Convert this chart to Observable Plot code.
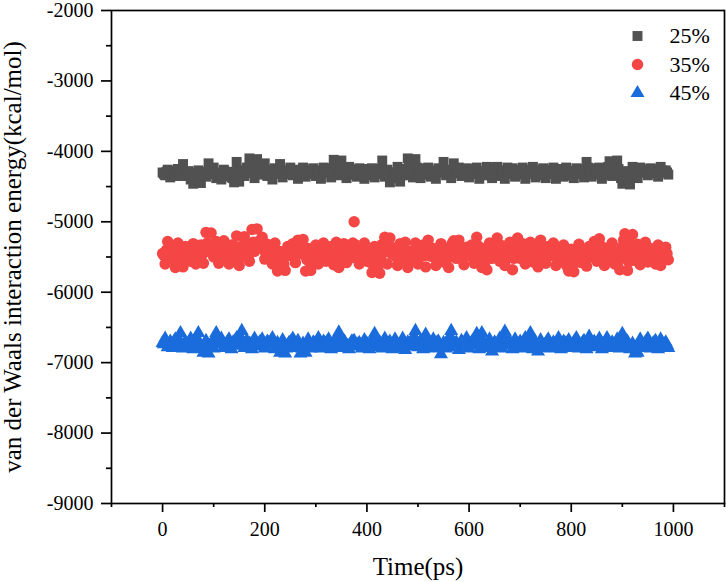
<!DOCTYPE html>
<html>
<head>
<meta charset="utf-8">
<script src="https://cdn.jsdelivr.net/npm/d3@7"></script>
<script src="https://cdn.jsdelivr.net/npm/@observablehq/plot@0.6"></script>
<style>
  html, body { margin: 0; padding: 0; background: #fff; }
  svg text { font-family: "Liberation Serif", "Times New Roman", Times, serif; }
</style>
</head>
<body>
<div id="chart"></div>
<script>
// Van der Waals interaction energy (kcal/mol), one sample every 2.5 ps from 0 to 990 ps
const timeStep = 2.5;

const energy25 = [
  -4300, -4320, -4340, -4290, -4260, -4330, -4370, -4300, -4290, -4350, -4320, -4280, -4250, -4310, -4350, -4270, -4180, -4300, -4310, -4340,
  -4280, -4350, -4400, -4380, -4460, -4300, -4330, -4340, -4270, -4360, -4450, -4330, -4300, -4310, -4360, -4290, -4170, -4320, -4290, -4260,
  -4230, -4300, -4380, -4340, -4320, -4360, -4400, -4330, -4260, -4290, -4340, -4320, -4290, -4350, -4370, -4380, -4440, -4310, -4150, -4270,
  -4430, -4340, -4280, -4300, -4350, -4280, -4230, -4250, -4100, -4200, -4310, -4290, -4380, -4260, -4110, -4230, -4260, -4300, -4330, -4270,
  -4170, -4260, -4350, -4310, -4290, -4340, -4400, -4300, -4240, -4280, -4320, -4250, -4180, -4300, -4370, -4320, -4280, -4290, -4310, -4270,
  -4230, -4290, -4340, -4300, -4260, -4330, -4390, -4310, -4300, -4270, -4230, -4300, -4360, -4320, -4280, -4290, -4320, -4260, -4240, -4300,
  -4350, -4300, -4270, -4330, -4390, -4280, -4230, -4260, -4310, -4290, -4250, -4310, -4370, -4240, -4120, -4280, -4300, -4320, -4340, -4250,
  -4130, -4260, -4280, -4330, -4380, -4300, -4220, -4280, -4330, -4300, -4260, -4320, -4360, -4270, -4240, -4280, -4310, -4340, -4390, -4300,
  -4250, -4290, -4340, -4270, -4240, -4300, -4370, -4320, -4280, -4300, -4320, -4250, -4130, -4290, -4360, -4310, -4260, -4350, -4440, -4360,
  -4300, -4340, -4380, -4300, -4220, -4360, -4430, -4340, -4290, -4310, -4340, -4250, -4100, -4220, -4260, -4300, -4370, -4240, -4110, -4230,
  -4310, -4340, -4380, -4300, -4240, -4280, -4330, -4260, -4230, -4290, -4360, -4310, -4270, -4330, -4390, -4300, -4240, -4260, -4300, -4250,
  -4150, -4270, -4340, -4290, -4260, -4310, -4380, -4280, -4170, -4260, -4310, -4280, -4230, -4300, -4350, -4310, -4290, -4250, -4240, -4290,
  -4370, -4300, -4250, -4280, -4320, -4260, -4230, -4320, -4390, -4330, -4280, -4300, -4340, -4280, -4220, -4260, -4310, -4340, -4380, -4310,
  -4260, -4230, -4220, -4270, -4350, -4310, -4290, -4330, -4390, -4300, -4230, -4280, -4320, -4260, -4240, -4300, -4360, -4310, -4270, -4290,
  -4330, -4260, -4230, -4300, -4390, -4320, -4260, -4280, -4310, -4270, -4220, -4310, -4370, -4330, -4290, -4310, -4340, -4270, -4240, -4290,
  -4380, -4320, -4270, -4300, -4320, -4260, -4230, -4300, -4390, -4310, -4250, -4280, -4300, -4330, -4360, -4290, -4230, -4280, -4340, -4310,
  -4280, -4330, -4380, -4290, -4240, -4270, -4320, -4290, -4250, -4320, -4370, -4260, -4150, -4230, -4300, -4330, -4360, -4300, -4240, -4280,
  -4330, -4260, -4230, -4300, -4390, -4330, -4270, -4290, -4310, -4220, -4140, -4250, -4350, -4290, -4230, -4240, -4130, -4250, -4300, -4380,
  -4460, -4380, -4280, -4310, -4350, -4400, -4470, -4320, -4220, -4280, -4320, -4350, -4380, -4290, -4230, -4260, -4300, -4280, -4260, -4300,
  -4340, -4280, -4240, -4270, -4310, -4290, -4250, -4310, -4360, -4280, -4220, -4270, -4300, -4290, -4270, -4300, -4330
];

const energy35 = [
  -5450, -5480, -5600, -5400, -5280, -5460, -5520, -5420, -5380, -5520, -5650, -5380, -5300, -5550, -5470, -5430, -5640, -5500, -5350, -5410,
  -5420, -5470, -5560, -5390, -5310, -5460, -5600, -5520, -5480, -5400, -5330, -5470, -5590, -5360, -5150, -5300, -5420, -5340, -5160, -5390,
  -5500, -5420, -5280, -5450, -5590, -5480, -5380, -5350, -5270, -5390, -5460, -5520, -5600, -5440, -5330, -5420, -5510, -5350, -5200, -5410,
  -5620, -5500, -5400, -5330, -5210, -5380, -5490, -5510, -5560, -5330, -5110, -5290, -5420, -5300, -5100, -5280, -5360, -5310, -5220, -5400,
  -5530, -5430, -5320, -5390, -5460, -5510, -5600, -5440, -5300, -5500, -5700, -5560, -5420, -5470, -5540, -5600, -5690, -5460, -5350, -5420,
  -5480, -5400, -5310, -5460, -5580, -5380, -5260, -5370, -5450, -5330, -5250, -5470, -5700, -5540, -5380, -5560, -5690, -5580, -5520, -5420,
  -5330, -5480, -5600, -5500, -5420, -5360, -5300, -5430, -5560, -5510, -5470, -5400, -5350, -5480, -5610, -5440, -5290, -5480, -5650, -5540,
  -5440, -5370, -5310, -5460, -5580, -5490, -5390, -5430, -5510, -5300, -5000, -5330, -5340, -5470, -5600, -5520, -5450, -5380, -5300, -5420,
  -5560, -5500, -5420, -5580, -5720, -5540, -5350, -5430, -5480, -5620, -5730, -5520, -5320, -5380, -5220, -5420, -5600, -5410, -5230, -5360,
  -5470, -5420, -5380, -5500, -5620, -5460, -5310, -5430, -5530, -5400, -5290, -5470, -5650, -5520, -5420, -5490, -5550, -5420, -5300, -5460,
  -5600, -5510, -5440, -5390, -5330, -5480, -5640, -5440, -5260, -5370, -5490, -5430, -5380, -5500, -5620, -5530, -5450, -5380, -5310, -5440,
  -5570, -5490, -5400, -5520, -5650, -5490, -5340, -5300, -5270, -5390, -5520, -5380, -5260, -5360, -5460, -5540, -5610, -5480, -5360, -5420,
  -5480, -5400, -5330, -5470, -5590, -5380, -5220, -5340, -5440, -5540, -5650, -5500, -5380, -5560, -5680, -5480, -5300, -5410, -5520, -5460,
  -5410, -5330, -5230, -5390, -5560, -5450, -5340, -5490, -5620, -5530, -5460, -5370, -5290, -5480, -5680, -5520, -5400, -5320, -5230, -5370,
  -5520, -5410, -5310, -5460, -5600, -5520, -5450, -5370, -5290, -5430, -5570, -5470, -5380, -5510, -5640, -5440, -5260, -5350, -5430, -5500,
  -5590, -5460, -5350, -5420, -5480, -5390, -5300, -5460, -5620, -5510, -5420, -5470, -5530, -5430, -5330, -5460, -5610, -5640, -5700, -5540,
  -5390, -5560, -5710, -5580, -5460, -5390, -5320, -5450, -5580, -5500, -5420, -5530, -5630, -5480, -5350, -5420, -5500, -5390, -5280, -5420,
  -5560, -5350, -5240, -5340, -5450, -5530, -5620, -5490, -5370, -5430, -5500, -5400, -5300, -5450, -5600, -5520, -5430, -5560, -5680, -5500,
  -5350, -5260, -5170, -5430, -5690, -5570, -5460, -5320, -5180, -5370, -5550, -5430, -5320, -5470, -5610, -5510, -5420, -5360, -5290, -5440,
  -5570, -5470, -5380, -5430, -5480, -5540, -5600, -5470, -5330, -5480, -5620, -5530, -5450, -5400, -5360, -5450, -5540
];

const energy45 = [
  -6720, -6740, -6660, -6720, -6780, -6750, -6700, -6730, -6790, -6700, -6670, -6760, -6740, -6690, -6580, -6740, -6800, -6730, -6710, -6750,
  -6760, -6710, -6660, -6740, -6810, -6760, -6720, -6690, -6580, -6720, -6770, -6800, -6860, -6780, -6690, -6790, -6870, -6760, -6730, -6710,
  -6800, -6700, -6580, -6690, -6710, -6720, -6660, -6740, -6790, -6760, -6730, -6700, -6670, -6750, -6810, -6720, -6700, -6690, -6650, -6720,
  -6760, -6650, -6550, -6700, -6790, -6720, -6690, -6760, -6730, -6740, -6810, -6730, -6660, -6710, -6770, -6740, -6710, -6700, -6670, -6760,
  -6800, -6740, -6700, -6720, -6740, -6700, -6650, -6730, -6810, -6760, -6720, -6790, -6860, -6770, -6680, -6780, -6870, -6800, -6750, -6720,
  -6710, -6690, -6660, -6730, -6790, -6740, -6690, -6780, -6870, -6800, -6730, -6790, -6860, -6760, -6670, -6740, -6800, -6750, -6710, -6730,
  -6770, -6710, -6650, -6730, -6800, -6750, -6700, -6720, -6750, -6700, -6670, -6750, -6810, -6760, -6720, -6690, -6650, -6640, -6570, -6700,
  -6790, -6740, -6690, -6720, -6750, -6760, -6810, -6740, -6700, -6700, -6690, -6730, -6770, -6740, -6720, -6750, -6800, -6730, -6680, -6710,
  -6730, -6760, -6810, -6740, -6690, -6680, -6590, -6700, -6780, -6740, -6710, -6750, -6800, -6720, -6660, -6710, -6760, -6730, -6700, -6760,
  -6810, -6730, -6670, -6710, -6740, -6760, -6790, -6720, -6660, -6740, -6820, -6760, -6710, -6740, -6770, -6700, -6650, -6640, -6550, -6700,
  -6780, -6740, -6690, -6750, -6810, -6710, -6600, -6680, -6740, -6770, -6800, -6730, -6670, -6720, -6750, -6710, -6700, -6790, -6880, -6760,
  -6720, -6750, -6800, -6730, -6660, -6640, -6550, -6680, -6780, -6740, -6710, -6760, -6820, -6750, -6690, -6720, -6760, -6700, -6650, -6730,
  -6800, -6750, -6710, -6740, -6750, -6690, -6590, -6700, -6810, -6680, -6580, -6710, -6730, -6750, -6790, -6730, -6670, -6770, -6840, -6740,
  -6710, -6740, -6780, -6720, -6660, -6730, -6800, -6660, -6560, -6690, -6740, -6720, -6700, -6750, -6810, -6730, -6670, -6720, -6770, -6740,
  -6700, -6740, -6800, -6730, -6650, -6710, -6750, -6680, -6580, -6700, -6810, -6760, -6710, -6770, -6840, -6750, -6680, -6740, -6790, -6750,
  -6730, -6700, -6670, -6740, -6800, -6760, -6710, -6740, -6770, -6710, -6650, -6730, -6810, -6760, -6700, -6720, -6750, -6710, -6680, -6740,
  -6790, -6750, -6710, -6690, -6650, -6730, -6800, -6760, -6740, -6710, -6690, -6750, -6810, -6720, -6630, -6690, -6760, -6730, -6700, -6740,
  -6780, -6720, -6660, -6740, -6810, -6760, -6720, -6690, -6650, -6720, -6790, -6750, -6710, -6740, -6770, -6720, -6670, -6740, -6800, -6700,
  -6590, -6670, -6750, -6720, -6700, -6760, -6810, -6770, -6730, -6800, -6870, -6830, -6860, -6760, -6670, -6730, -6790, -6750, -6710, -6690,
  -6660, -6730, -6800, -6760, -6730, -6710, -6690, -6750, -6810, -6740, -6670, -6720, -6770, -6740, -6710, -6750, -6790
];

const seriesLabels = ["25%", "35%", "45%"];
const seriesValues = [energy25, energy35, energy45];

const xTicksMajor = [0, 200, 400, 600, 800, 1000];
const xTicksMinor = [-100, 100, 300, 500, 700, 900, 1100];
const yTicksMajor = [-9000, -8000, -7000, -6000, -5000, -4000, -3000, -2000];
const yTicksMinor = [-8500, -7500, -6500, -5500, -4500, -3500, -2500];

const xTitle = "Time(ps)";
const yTitle = "van der Waals interaction energy(kcal/mol)";

// marker style per series
const markerStyle = {
  "25%": {symbol: "square", fill: "#515151", r: 5.6},
  "35%": {symbol: "circle", fill: "#F54646", r: 5.7},
  "45%": {symbol: "triangle", fill: "#1A6CDC", r: 5.2}
};

const rows = seriesLabels.flatMap((label, k) =>
  seriesValues[k].map((v, i) => ({series: label, time: i * timeStep, energy: v}))
);

const font = "'Liberation Serif', 'Times New Roman', Times, serif";
const lineW = 1.7;

const marks = [];

// scatter, one mark per series so each keeps its own symbol
seriesLabels.forEach(label => {
  const st = markerStyle[label];
  marks.push(Plot.dot(rows.filter(d => d.series === label), {
    x: "time", y: "energy", symbol: () => st.symbol, fill: st.fill, r: st.r, stroke: "none"
  }));
});

// axes: major and minor ticks pointing outward
marks.push(
  Plot.axisY(yTicksMajor, {tickSize: 10, tickPadding: 8, tickFormat: d => String(d), fontSize: 20, fontFamily: font, fontVariant: "normal", strokeWidth: lineW, label: null}),
  Plot.axisY(yTicksMinor, {tickSize: 5, tickFormat: () => "", strokeWidth: lineW, label: null}),
  Plot.axisX(xTicksMajor, {tickSize: 9, tickPadding: 9, tickFormat: d => String(d), fontSize: 20, fontFamily: font, fontVariant: "normal", strokeWidth: lineW, label: null}),
  Plot.axisX(xTicksMinor, {tickSize: 4, tickFormat: () => "", strokeWidth: lineW, label: null}),
  Plot.frame({stroke: "black", strokeWidth: lineW})
);

// axis titles
marks.push(
  Plot.text([xTitle], {text: d => d, frameAnchor: "bottom", lineAnchor: "middle", dy: 63, fontSize: 25, fontFamily: font, fill: "black"}),
  Plot.text([yTitle], {text: d => d, frameAnchor: "left", lineAnchor: "middle", textAnchor: "middle", rotate: -90, dx: -99, fontSize: 25, fontFamily: font, fill: "black"})
);

// legend in the upper right corner
seriesLabels.forEach((label, i) => {
  const st = markerStyle[label];
  marks.push(
    Plot.dot([label], {frameAnchor: "top-right", dx: -87, dy: 25.5 + 28.5 * i, symbol: () => st.symbol, fill: st.fill, r: st.r, stroke: "none"}),
    Plot.text([label], {text: d => d, frameAnchor: "top-right", textAnchor: "start", lineAnchor: "middle", dx: -55, dy: 25.5 + 28.5 * i, fontSize: 22, fontFamily: font, fill: "black"})
  );
});

const chart = Plot.plot({
  width: 726,
  height: 582,
  marginLeft: 111,
  marginRight: 2,
  marginTop: 10,
  marginBottom: 79,
  x: {domain: [-100, 1100]},
  y: {domain: [-9000, -2000]},
  symbol: {type: "identity"},
  style: {fontFamily: font, fontSize: "20px", color: "black", background: "white", overflow: "visible"},
  marks
});

document.getElementById("chart").appendChild(chart);
</script>
</body>
</html>
